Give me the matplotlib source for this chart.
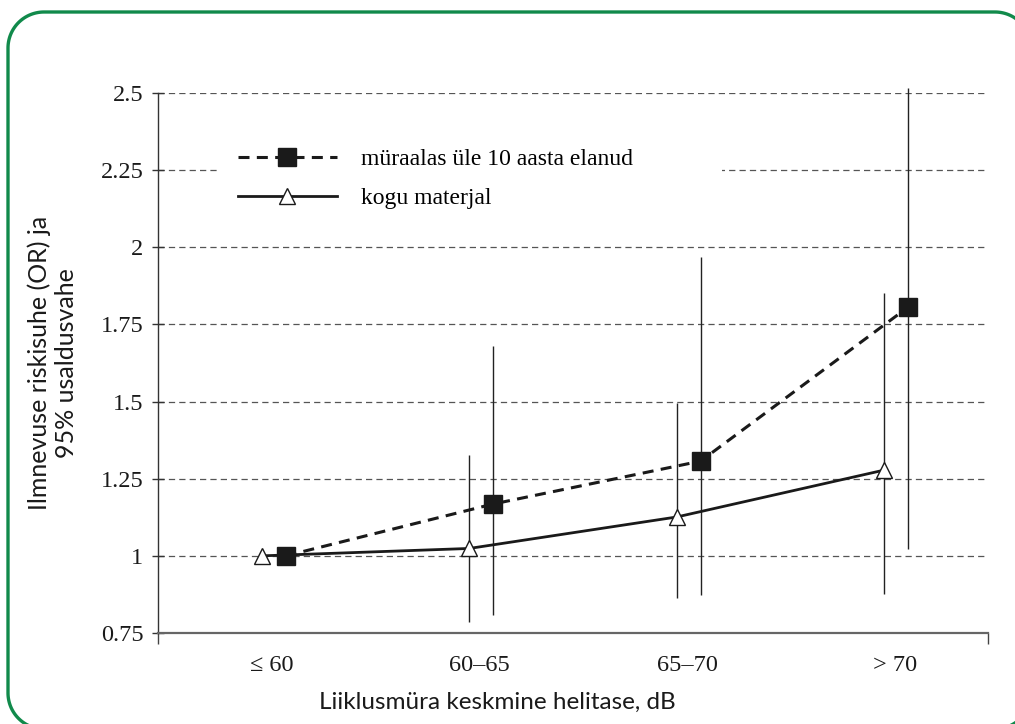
import numpy as np
import matplotlib.pyplot as plt
from matplotlib.patches import Rectangle
from matplotlib.lines import Line2D
from matplotlib.ticker import FuncFormatter, FixedLocator
from matplotlib.transforms import IdentityTransform

# noise level groups
categories = ['\u2264 60', '60\u201365', '65\u201370', '> 70']

# lived in the noise area for more than 10 years
or_10y = [1.0, 1.168, 1.307, 1.806]
lo_10y = [np.nan, 0.808, 0.873, 1.021]
hi_10y = [np.nan, 1.68, 1.969, 2.516]

# whole sample
or_all = [1.0, 1.024, 1.126, 1.278]
lo_all = [np.nan, 0.786, 0.862, 0.876]
hi_all = [np.nan, 1.327, 1.494, 1.851]

label_10y = 'müraalas üle 10 aasta elanud'
label_all = 'kogu materjal'

serif = 'Liberation Serif'
sans = 'Lato'

W, H = 1015, 724
fig = plt.figure(figsize=(W/100, H/100), dpi=100)
ax = fig.add_axes([158/W, 1-633/H, 830/W, 540/H])

x = np.arange(len(categories))
x_sq = x + 0.115


def rounded_rect(x0, y0, x1, y1, r, n=30):
    # outline of a rounded rectangle, pixel coords with y pointing up
    t = np.linspace(0, np.pi/2, n)
    px, py = [], []
    for cx, cy, a0 in [(x1-r, y1-r, 0), (x0+r, y1-r, np.pi/2),
                       (x0+r, y0+r, np.pi), (x1-r, y0+r, 1.5*np.pi)]:
        px += list(cx + r*np.cos(a0 + t))
        py += list(cy + r*np.sin(a0 + t))
    return px + px[:1], py + py[:1]


# green frame, running off the right and bottom edges
fx, fy = rounded_rect(8, H-729, 1031, H-12, 36)
fig.add_artist(Line2D(fx, fy, transform=IdentityTransform(), color='#118a4b', lw=2.4))

# confidence intervals
ax.errorbar(x, or_all, yerr=[np.subtract(or_all, lo_all), np.subtract(hi_all, or_all)],
            fmt='none', ecolor='#222222', elinewidth=1.0, capsize=0, zorder=3, clip_on=False)
ax.errorbar(x_sq, or_10y, yerr=[np.subtract(or_10y, lo_10y), np.subtract(hi_10y, or_10y)],
            fmt='none', ecolor='#222222', elinewidth=1.0, capsize=0, zorder=3, clip_on=False)

ax.plot(x, or_all, color='#1a1a1a', lw=2.0, marker='^', ms=11.5,
        mfc='white', mec='#1a1a1a', mew=1.0, zorder=5, clip_on=False)
ax.plot(x_sq, or_10y, color='#1a1a1a', lw=2.2, dashes=(3.6, 2.4), marker='s', ms=12.5,
        mfc='#1a1a1a', mec='#1a1a1a', zorder=6, clip_on=False)

ax.set_xlim(-0.5, 3.5)
ax.set_ylim(0.75, 2.5)

# gridlines
ax.set_yticks(np.arange(0.75, 2.51, 0.25))
ax.yaxis.set_major_formatter(FuncFormatter(lambda v, p: '%g' % v))
for v in np.arange(1.0, 2.51, 0.25):
    ax.axhline(v, color='#555555', lw=0.9, dashes=(5, 3.3), zorder=1)

# white box behind the legend
ax.add_patch(Rectangle(((218-158)/830, (633-212)/540), (722-218)/830, 82/540,
                       transform=ax.transAxes, facecolor='white', edgecolor='none', zorder=2))

handles = [Line2D([], [], color='#1a1a1a', lw=2.2, dashes=(3.6, 2.4), marker='s', ms=12.5,
                  mfc='#1a1a1a', mec='#1a1a1a'),
           Line2D([], [], color='#1a1a1a', lw=2.0, marker='^', ms=11.5,
                  mfc='white', mec='#1a1a1a', mew=1.0)]
leg = ax.legend(handles, [label_10y, label_all], loc='upper left',
                bbox_to_anchor=((226-158)/830, (633-137)/540), frameon=False,
                numpoints=1, handlelength=4.2, handletextpad=1.0, labelspacing=0.72,
                borderpad=0, prop={'family': serif, 'size': 17})
leg.set_zorder(7)

for s in ['top', 'right']:
    ax.spines[s].set_visible(False)
ax.spines['left'].set_color('#333333')
ax.spines['left'].set_linewidth(1.0)
ax.spines['bottom'].set_color('#666666')
ax.spines['bottom'].set_linewidth(1.6)

ax.tick_params(axis='y', direction='inout', length=9, width=1.0, color='#333333',
               pad=6, labelsize=17.5, labelcolor='#1a1a1a')
for t in ax.get_yticklabels():
    t.set_family(serif)

# bottom axis: boundary ticks only, category labels as minor ticks
ax.xaxis.set_major_locator(FixedLocator([-0.5, 3.5]))
ax.xaxis.set_major_formatter(FuncFormatter(lambda v, p: ''))
ax.xaxis.set_minor_locator(FixedLocator(x + 0.05))
ax.set_xticklabels(categories, minor=True)
ax.tick_params(axis='x', which='major', direction='out', length=8, width=1.0, color='#444444')
ax.tick_params(axis='x', which='minor', length=0, pad=16, labelsize=17.5, labelcolor='#1a1a1a')
for t in ax.get_xticklabels(minor=True):
    t.set_family(serif)

ax.set_ylabel('Ilmnevuse riskisuhe (OR) ja\n95% usaldusvahe', family=sans, fontsize=18,
              color='#1a1a1a', linespacing=1.22)
ax.yaxis.set_label_coords((53-158)/830, 0.5)
ax.yaxis.label.set_va('center')

ax.set_xlabel('Liiklusmüra keskmine helitase, dB', family=sans, fontsize=17.5, color='#1a1a1a')
ax.xaxis.set_label_coords((497-158)/830, (633-702)/540)
ax.xaxis.label.set_va('center')

fig.savefig('out.png', dpi=100)
